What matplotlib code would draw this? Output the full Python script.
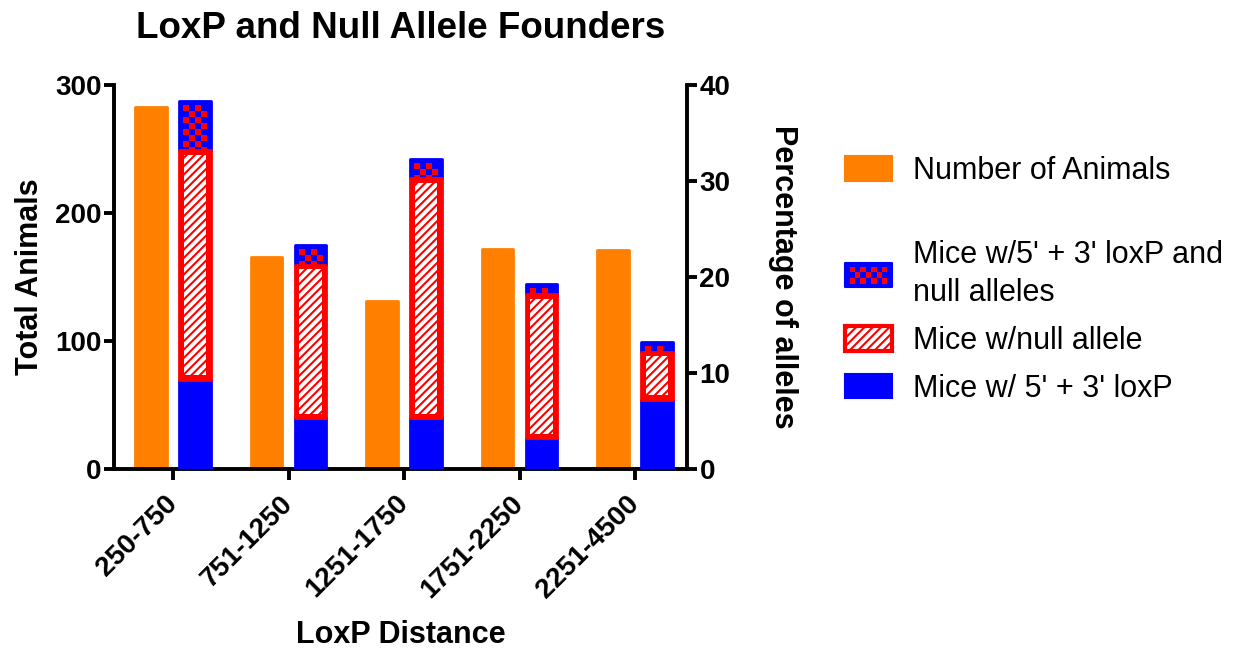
import matplotlib
matplotlib.use('Agg')
import matplotlib.pyplot as plt
import numpy as np
from matplotlib.patches import Rectangle, Patch
from matplotlib.legend_handler import HandlerBase
from matplotlib.colors import ListedColormap

# ---------------- data ----------------
categories = ['250-750', '751-1250', '1251-1750', '1751-2250', '2251-4500']
animals = [283, 166, 131, 172, 171]          # Total Animals (left axis)
loxp_pct = [9.3, 5.3, 5.3, 3.2, 7.2]         # Mice w/ 5' + 3' loxP
null_pct = [23.9, 16.0, 25.0, 15.0, 5.0]     # Mice w/null allele
both_pct = [5.1, 2.0, 2.0, 1.1, 1.0]         # Mice w/5' + 3' loxP and null alleles

legend_labels = ['Number of Animals',
                 "Mice w/5' + 3' loxP and\nnull alleles",
                 'Mice w/null allele',
                 "Mice w/ 5' + 3' loxP"]

# ---------------- style ----------------
plt.rcParams['font.family'] = ['Liberation Sans', 'DejaVu Sans']
plt.rcParams['font.weight'] = 'bold'
plt.rcParams['axes.labelweight'] = 'bold'
plt.rcParams['hatch.linewidth'] = 1.5

ORANGE = '#FF8000'
BLUE = '#0000FF'
RED = '#FF0000'

W, H = 1245, 656
fig = plt.figure(figsize=(W / 100, H / 100), dpi=100)
ax = fig.add_axes([114 / W, 1 - 469 / H, 573 / W, 384 / H])
ax2 = ax.twinx()

x = np.arange(len(categories))
bw = 0.27
off = 0.19
XLIM = (-0.511, 4.45)
ax.set_xlim(*XLIM)
ax.set_ylim(0, 300)
ax2.set_ylim(0, 40)

px_x = ax.transData.transform((1, 0))[0] - ax.transData.transform((0, 0))[0]
px_y2 = ax2.transData.transform((0, 1))[1] - ax2.transData.transform((0, 0))[1]

# orange bars
ax.bar(x - off, animals, bw, color=ORANGE, edgecolor=ORANGE, lw=2,
       joinstyle='round', zorder=2)

loxp = np.array(loxp_pct)
nul = np.array(null_pct)
both = np.array(both_pct)

# blue bottom segment
ax2.bar(x + off, loxp, bw, color=BLUE, edgecolor=BLUE, lw=2,
        joinstyle='round', zorder=1)
# checker top segment background
ax2.bar(x + off, both, bw, bottom=loxp + nul, color=BLUE, edgecolor=BLUE,
        lw=2, joinstyle='round', zorder=1)

# checker pattern inside top segment
cell = 6.0
ins_px = 4.0
cmap = ListedColormap([BLUE, RED])
for i in range(len(categories)):
    x0 = x[i] + off - bw / 2 + ins_px / px_x
    x1 = x[i] + off + bw / 2 - ins_px / px_x
    ytop = loxp[i] + nul[i] + both[i] - ins_px / px_y2
    ybot = loxp[i] + nul[i]
    hpx = (ytop - ybot) * px_y2
    if hpx <= 0:
        continue
    wpx = (x1 - x0) * px_x
    nx = max(1, int(round(wpx / cell)))
    ny = max(1, int(np.ceil(hpx / cell)))
    y0 = ytop - ny * cell / px_y2
    arr = 1 - (np.add.outer(np.arange(ny), np.arange(nx)) % 2)
    ax2.imshow(arr, cmap=cmap, vmin=0, vmax=1, extent=(x0, x1, y0, ytop),
               origin='upper', interpolation='nearest', aspect='auto', zorder=1.5)

# null allele segment: red frame + white hatched inside
ax2.bar(x + off, nul, bw, bottom=loxp, color=RED, edgecolor=RED, lw=2,
        joinstyle='round', zorder=2)
inx = 4.5 / px_x
iny = 4.5 / px_y2
ax2.bar(x + off, nul - 2 * iny, bw - 2 * inx, bottom=loxp + iny, color='white',
        edgecolor=RED, lw=0, hatch='////', zorder=2.1)

ax.set_xlim(*XLIM)
ax.set_ylim(0, 300)
ax2.set_ylim(0, 40)

# ---------------- axes styling ----------------
for a in (ax, ax2):
    a.spines['top'].set_visible(False)
ax.spines['right'].set_visible(False)
ax2.spines['left'].set_visible(False)
ax2.spines['bottom'].set_visible(False)
for s in ('left', 'bottom'):
    ax.spines[s].set_linewidth(2.8)
ax2.spines['right'].set_linewidth(2.8)

ax.set_yticks([0, 100, 200, 300])
ax2.set_yticks([0, 10, 20, 30, 40])
ax.tick_params(axis='y', direction='out', length=7, width=2.8, labelsize=20, pad=2)
ax2.tick_params(axis='y', direction='out', length=7, width=2.8, labelsize=20, pad=2)
ax.tick_params(axis='x', direction='out', length=8, width=2.8, labelsize=20, pad=14)
ax.set_xticks(x)
ax.set_xticklabels(categories, rotation=45, ha='right', va='center',
                   rotation_mode='anchor')

ax.set_ylabel('Total Animals', fontsize=22, fontweight='bold')
ax.yaxis.set_label_coords(-0.147, 0.5)
ax.yaxis.label.set_va('center')
ax2.set_ylabel('Percentage of alleles', fontsize=22, fontweight='bold', rotation=270)
ax2.yaxis.set_label_coords(1.168, 0.5)
ax2.yaxis.label.set_va('center')
ax2.yaxis.label.set_ha('center')

ax.set_xlabel('LoxP Distance', fontsize=22, fontweight='bold')
ax.xaxis.set_label_coords(0.5, -0.432)
ax.xaxis.label.set_va('center')

ax.text(0.5, 1.148, 'LoxP and Null Allele Founders', transform=ax.transAxes,
        ha='center', va='center', fontsize=26.5, fontweight='bold')


# ---------------- legend ----------------
class CheckerHandler(HandlerBase):
    def create_artists(self, legend, orig_handle, xdescent, ydescent,
                       width, height, fontsize, trans):
        arts = [Rectangle((-xdescent, -ydescent), width, height, facecolor=BLUE,
                          edgecolor=BLUE, lw=1.5, joinstyle='round',
                          transform=trans)]
        pad = width * 0.1
        nxc, nyc = 7, 3
        cw = (width - 2 * pad) / nxc
        ch = (height - 2 * pad * 0.8) / nyc
        for r in range(nyc):
            for c in range(nxc):
                if (r + c) % 2 == 0:
                    arts.append(Rectangle((-xdescent + pad + c * cw,
                                           -ydescent + height - pad * 0.8 - (r + 1) * ch),
                                          cw, ch, facecolor=RED, lw=0,
                                          transform=trans))
        return arts


checker_handle = Patch(facecolor=BLUE)
orange_handle = Patch(facecolor=ORANGE, edgecolor=ORANGE, lw=1.5, joinstyle='round')
null_handle = Patch(facecolor='white', edgecolor=RED, hatch='////', lw=3)
blue_handle = Patch(facecolor=BLUE, edgecolor=BLUE, lw=1.5, joinstyle='round')

common = dict(loc='center left', bbox_transform=fig.transFigure, frameon=False,
              prop={'size': 22, 'weight': 'normal'}, handlelength=1.54,
              handleheight=0.85, handletextpad=0.69, borderpad=0,
              borderaxespad=0)
leg1 = ax2.legend([orange_handle], legend_labels[:1],
                  bbox_to_anchor=(845 / W, 1 - 171 / H), **common)
ax2.add_artist(leg1)
leg2 = ax2.legend([checker_handle, null_handle, blue_handle], legend_labels[1:],
                  bbox_to_anchor=(845 / W, 1 - 322 / H), labelspacing=0.58,
                  handler_map={checker_handle: CheckerHandler()}, **common)
for t in leg2.get_texts():
    t.set_linespacing(1.35)

fig.savefig('out.png', dpi=100)
